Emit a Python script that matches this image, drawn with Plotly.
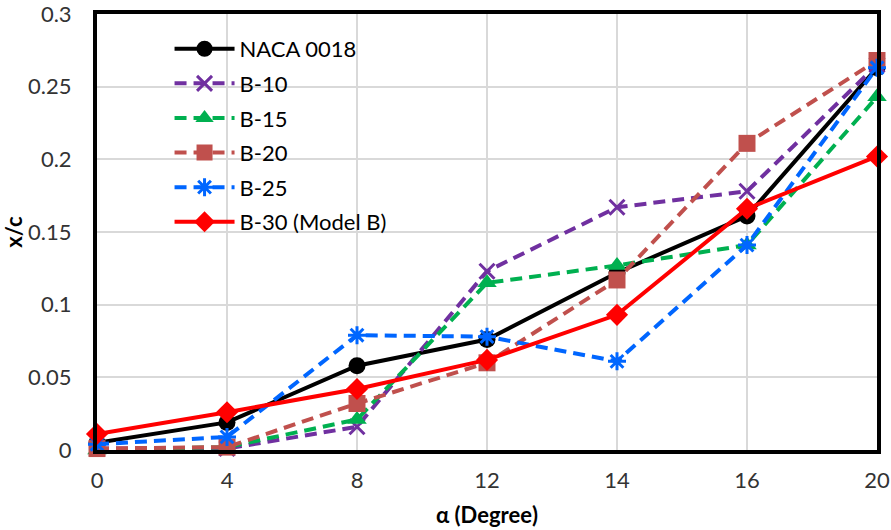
import plotly.graph_objects as go

angles = ["0", "4", "8", "12", "14", "16", "20"]
naca0018 = [0.005, 0.019, 0.058, 0.076, 0.122, 0.161, 0.263]
b10 = [0.001, 0.001, 0.016, 0.123, 0.167, 0.178, 0.265]
b15 = [0.000, 0.002, 0.021, 0.115, 0.127, 0.141, 0.243]
b20 = [0.001, 0.002, 0.032, 0.060, 0.117, 0.211, 0.268]
b25 = [0.004, 0.009, 0.079, 0.078, 0.061, 0.141, 0.263]
b30 = [0.011, 0.026, 0.042, 0.062, 0.093, 0.166, 0.202]
y_ticks = [0, 0.05, 0.1, 0.15, 0.2, 0.25, 0.3]
y_tick_labels = ["0", "0.05", "0.1", "0.15", "0.2", "0.25", "0.3"]

series = [
    ("NACA 0018", naca0018, "#000000", "solid", "circle", 17),
    ("B-10", b10, "#7030A0", "12px,7px", "x-thin-open", 15),
    ("B-15", b15, "#00B050", "12px,7px", "triangle-up", 17),
    ("B-20", b20, "#C0504D", "12px,7px", "square", 17),
    ("B-25", b25, "#0066FF", "12px,7px", "asterisk-open", 15),
    ("B-30 (Model B)", b30, "#FF0000", "solid", "diamond", 17),
]

fig = go.Figure()
for i, (name, vals, col, dash, sym, sz) in enumerate(series):
    open_sym = sym.endswith("open")
    fig.add_trace(go.Scatter(
        x=angles, y=vals, name=name, mode="lines+markers",
        legendgroup=f"g{i}",
        line=dict(color=col, width=4, dash=dash),
        marker=dict(symbol=sym, size=sz, color=col,
                    line=dict(color=col, width=3 if open_sym else 0)),
        cliponaxis=False,
    ))

fig.update_layout(
    width=891, height=530,
    margin=dict(l=97, r=14, t=14, b=80, autoexpand=False),
    paper_bgcolor="white", plot_bgcolor="white",
    font=dict(family="Lato, 'Open Sans', sans-serif", size=22, color="#333333"),
    showlegend=True,
    legend=dict(x=0.093, y=0.968, xanchor="left", yanchor="top",
                bgcolor="rgba(0,0,0,0)", borderwidth=0,
                font=dict(size=22, color="#000000"),
                itemwidth=60, tracegroupgap=3, traceorder="grouped"),
    xaxis=dict(
        type="category", range=[0, 6], automargin=False,
        showgrid=True, gridcolor="#D9D9D9", gridwidth=2,
        showline=True, mirror=True, linecolor="black", linewidth=4,
        ticks="", ticklabelstandoff=8, ticklabeloverflow="allow",
        title=dict(text="<b>α (Degree)</b>", font=dict(size=22, color="#000000"), standoff=16),
        zeroline=False,
    ),
    yaxis=dict(
        range=[0, 0.3], tickmode="array", tickvals=y_ticks, ticktext=y_tick_labels,
        automargin=False, ticklabeloverflow="allow",
        showgrid=True, gridcolor="#D9D9D9", gridwidth=2,
        showline=True, mirror=True, linecolor="black", linewidth=4,
        ticks="", ticklabelstandoff=17,
        title=dict(text="<b>x/c</b>", font=dict(size=22, color="#000000"), standoff=4),
        zeroline=False,
    ),
)

fig.write_html("out.html", config={"displayModeBar": False},
               post_script="document.body.style.margin='0px';document.body.style.padding='0px';")
